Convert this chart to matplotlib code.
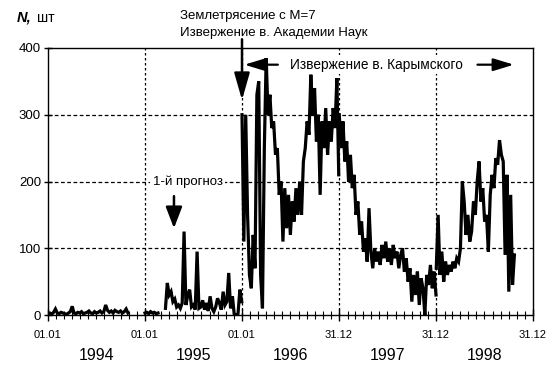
import numpy as np
import pandas as pd
import matplotlib
matplotlib.use('Agg')
import matplotlib.pyplot as plt
import matplotlib.dates as mdates

plt.rcParams['font.family'] = ['Liberation Sans', 'DejaVu Sans']

nan = np.nan

# weekly counts N, one list per year (NaN = no data)
n_1994 = [2, 3, 1, 4, 9, 3, 2, 4, 3, 2, 1, 3, 5, 13, 3, 2, 4, 3, 5, 2, 3, 4,
          6, 3, 2, 5, 3, 4, 6, 3, 5, 15, 7, 4, 6, 3, 7, 5, 4, 6, 3, 5, 9, 3,
          nan, nan, nan, nan, nan, nan, nan, nan, nan]
n_1995 = [3, 4, 2, 5, 3, 4, 2, 3, nan, nan, nan, 10, 48, 30, 35, 20, 24, 12,
          15, 10, 18, 125, 15, 30, 38, 12, 15, 8, 95, 10, 12, 22, 8, 18, 6, 28,
          10, 5, 12, 25, 18, 8, 35, 15, 20, 63, 10, 28, 0, 0, 2, 38, 20]
n_1996 = [300, 110, 300, 150, 60, 40, 120, 70, 330, 350, 60, 10, 250, 385,
          300, 330, 280, 290, 240, 250, 180, 200, 110, 190, 130, 180, 120, 170,
          140, 190, 150, 200, 150, 230, 250, 290, 270, 360, 300, 340, 260, 300,
          180, 290, 250, 310, 240, 290, 260, 310, 280, 355, 210]
n_1997 = [300, 250, 290, 230, 260, 200, 240, 190, 210, 150, 170, 120, 140, 95,
          115, 80, 160, 95, 70, 100, 80, 95, 75, 105, 85, 110, 80, 100, 75, 105,
          85, 95, 70, 90, 100, 65, 85, 50, 70, 20, 60, 30, 65, 15, 55, 40, 0,
          60, 45, 75, 40, 65, 30]
n_1998 = [70, 150, 60, 95, 50, 80, 60, 75, 65, 80, 70, 85, 80, 100, 200, 170,
          120, 150, 110, 125, 170, 150, 200, 230, 170, 190, 140, 150, 95, 180,
          210, 190, 235, 225, 262, 240, 230, 90, 210, 35, 180, 45, 90,
          nan, nan, nan, nan, nan, nan, nan, nan, nan, nan]

years = [1994, 1995, 1996, 1997, 1998]
series = [n_1994, n_1995, n_1996, n_1997, n_1998]

tick_dates = ['1994-01-01', '1995-01-01', '1996-01-01',
              '1996-12-31', '1997-12-31', '1998-12-31']
tick_labels = ['01.01', '01.01', '01.01', '31.12', '31.12', '31.12']

fig = plt.figure(figsize=(5.49, 3.73), dpi=100)
ax = fig.add_axes([48/549, 58/373, 485/549, 267/373])

for yr, vals in zip(years, series):
    d = pd.date_range(f'{yr}-01-01', periods=len(vals), freq='7D')
    ax.plot(d, vals, color='black', lw=2.3, solid_joinstyle='miter')

ax.set_xlim(pd.Timestamp('1994-01-01'), pd.Timestamp('1998-12-31'))
ax.set_ylim(0, 400)
ax.set_yticks([0, 100, 200, 300, 400])

ax.set_xticks([pd.Timestamp(t) for t in tick_dates])
ax.set_xticklabels(tick_labels, fontsize=8)
ax.xaxis.set_minor_locator(mdates.MonthLocator())
ax.tick_params(axis='x', which='major', direction='inout', length=9, width=1, pad=6)
ax.tick_params(axis='x', which='minor', direction='inout', length=6, width=0.8)
ax.tick_params(axis='y', direction='inout', length=6, width=1, labelsize=9.5, pad=2)

# grid
for v in [100, 200, 300]:
    ax.axhline(v, color='black', ls=(0, (3, 2)), lw=0.9, zorder=0)
for t in tick_dates[1:5]:
    ax.axvline(pd.Timestamp(t), color='black', ls=(0, (2, 2)), lw=0.9, zorder=0)

for s in ax.spines.values():
    s.set_linewidth(1)

# year labels
for yr in years:
    ax.text(pd.Timestamp(f'{yr}-07-02'), -60, str(yr), ha='center', va='center',
            fontsize=11.5, clip_on=False)

# axis title
fig.text(17/549, 1 - 18/373, 'N,', fontsize=10.5, fontweight='bold',
         fontstyle='italic', va='center')
fig.text(37/549, 1 - 18/373, 'шт', fontsize=10, va='center')

# annotations
fig.text(180/549, 1 - 16/373, 'Землетрясение с М=7', fontsize=9.5, va='center')
fig.text(180/549, 1 - 33/373, 'Извержение в. Академии Наук', fontsize=9.5, va='center')

big = dict(arrowstyle='-|>,head_length=1.65,head_width=0.47', color='black',
           lw=1.8, shrinkA=0, shrinkB=0, mutation_scale=10)
mid = dict(arrowstyle='-|>,head_length=1.3,head_width=0.5', color='black',
           lw=1.8, shrinkA=0, shrinkB=0, mutation_scale=10)
small = dict(arrowstyle='-|>,head_length=1.25,head_width=0.38', color='black',
             lw=1.6, shrinkA=0, shrinkB=0, mutation_scale=10)
white = dict(facecolor='white', edgecolor='none', pad=2)

ax.annotate('', xy=(pd.Timestamp('1996-01-01'), 322),
            xytext=(pd.Timestamp('1996-01-01'), 413),
            arrowprops=big, annotation_clip=False)
ax.annotate('', xy=(pd.Timestamp('1996-01-10'), 375),
            xytext=(pd.Timestamp('1996-05-15'), 375), arrowprops=small)
ax.text(pd.Timestamp('1996-06-28'), 375, 'Извержение в. Карымского',
        fontsize=9.8, va='center', bbox=white, zorder=3)
ax.annotate('', xy=(pd.Timestamp('1998-10-20'), 375),
            xytext=(pd.Timestamp('1998-06-05'), 375), arrowprops=small)

ax.text(pd.Timestamp('1995-06-10'), 199, '1-й прогноз', fontsize=9.5,
        ha='center', va='center', bbox=white, zorder=3)
ax.annotate('', xy=(pd.Timestamp('1995-04-20'), 130),
            xytext=(pd.Timestamp('1995-04-20'), 178), arrowprops=mid)

fig.savefig('out.png', dpi=100)
